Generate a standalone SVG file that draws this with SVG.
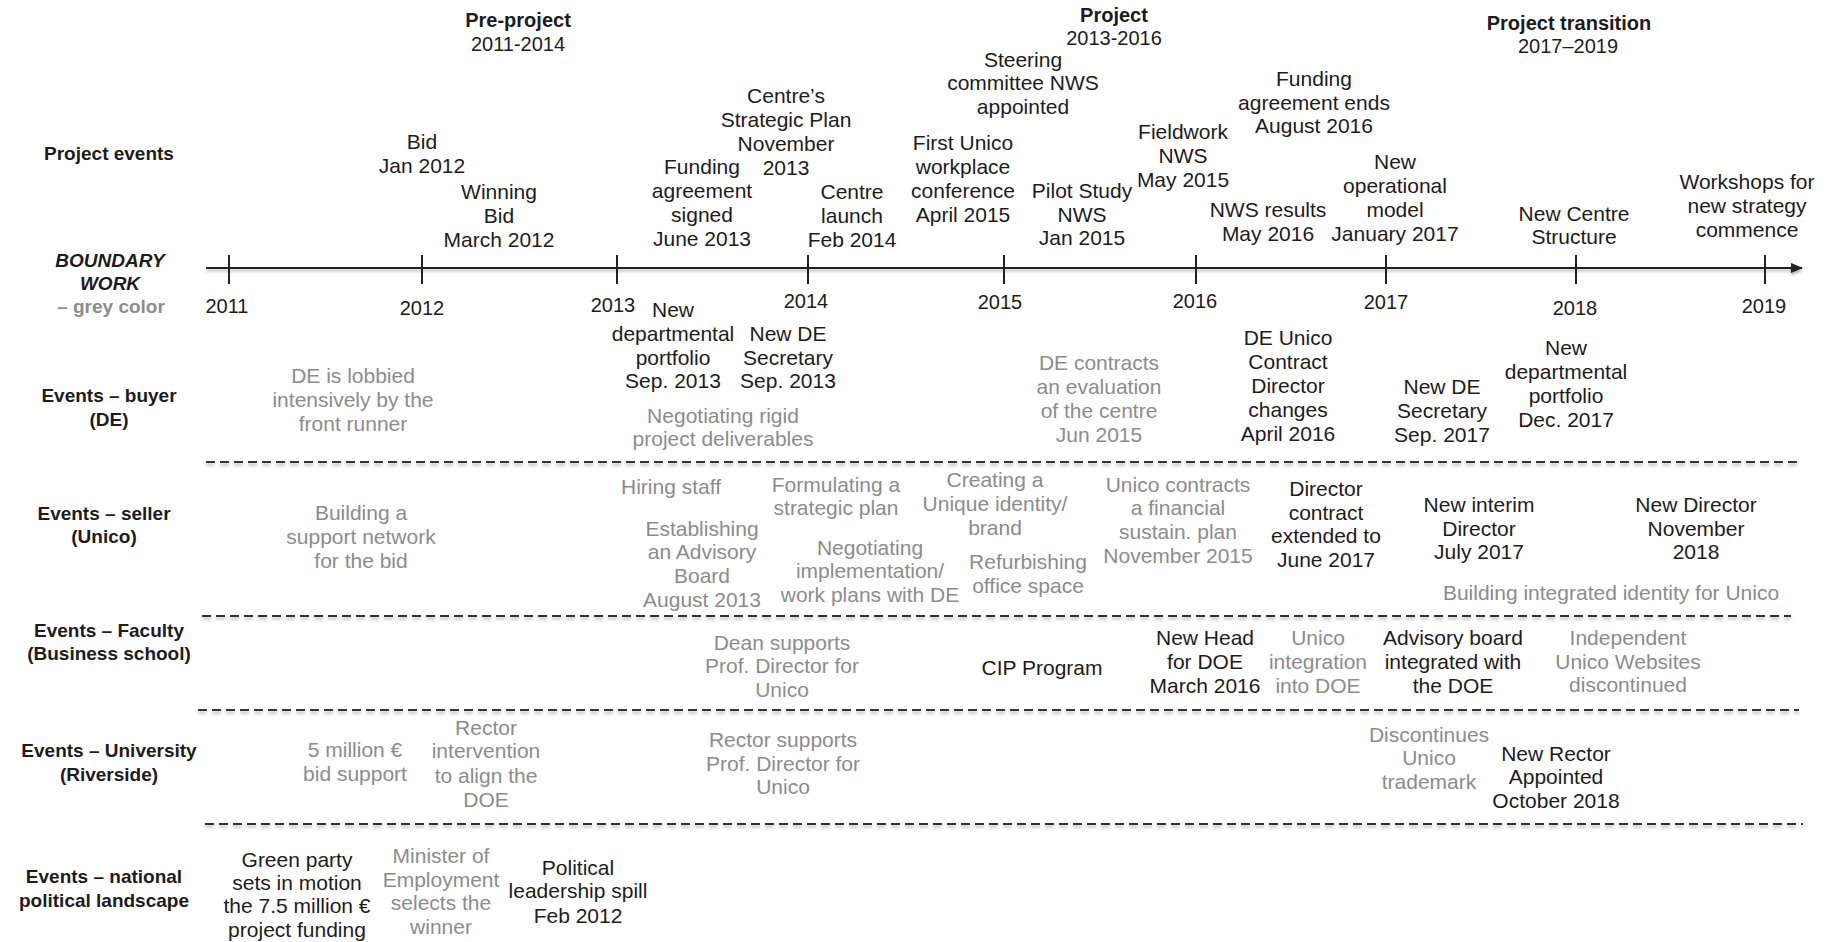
<svg xmlns="http://www.w3.org/2000/svg" width="1831" height="942" viewBox="0 0 1831 942">
<defs>
<style>
text{font-family:"Liberation Sans",Arial,sans-serif;font-size:21px;text-anchor:middle;fill:#1c1c1c}
.g{fill:#8c8c8c}
.h{font-size:20px}
.hb{font-size:20px;font-weight:bold}
.lb{font-size:19px;font-weight:bold}
.yr{font-size:20px}
.ax{stroke:#222;stroke-width:2;fill:none}
.dash{stroke:#333;stroke-width:2;stroke-dasharray:9 5;fill:none}
</style>
<filter id="sh" filterUnits="userSpaceOnUse" x="0" y="0" width="1831" height="942">
<feDropShadow dx="0" dy="2.5" stdDeviation="1.5" flood-color="#000" flood-opacity="0.3"/>
</filter>
<marker id="arr" viewBox="0 0 12 10" refX="11" refY="5" markerWidth="12" markerHeight="10" markerUnits="userSpaceOnUse" orient="auto">
<path d="M0,0 L12,5 L0,10 Z" fill="#222"/>
</marker>
</defs>
<rect width="1831" height="942" fill="#fff"/>

<g id="connectors">
<g filter="url(#sh)">
<line class="ax" x1="206" y1="268" x2="1802" y2="268" marker-end="url(#arr)"/>
</g>
<g class="ax">
<line x1="229" y1="255" x2="229" y2="284"/>
<line x1="422" y1="255" x2="422" y2="284"/>
<line x1="617" y1="255" x2="617" y2="284"/>
<line x1="808" y1="255" x2="808" y2="284"/>
<line x1="1004" y1="255" x2="1004" y2="284"/>
<line x1="1196" y1="255" x2="1196" y2="284"/>
<line x1="1386" y1="255" x2="1386" y2="284"/>
<line x1="1576" y1="255" x2="1576" y2="284"/>
<line x1="1765" y1="255" x2="1765" y2="284"/>
</g>
<g filter="url(#sh)">
<line class="dash" x1="206" y1="462" x2="1797" y2="462"/>
<line class="dash" x1="202" y1="616" x2="1791" y2="616"/>
<line class="dash" x1="198" y1="710" x2="1799" y2="710"/>
<line class="dash" x1="205" y1="824" x2="1803" y2="824"/>
</g>
</g>

<g id="phases">
<g id="phase-pre"><text class="hb" x="518" y="27">Pre-project</text><text class="h" x="518" y="51">2011-2014</text></g>
<g id="phase-project"><text class="hb" x="1114" y="22">Project</text><text class="h" x="1114" y="45">2013-2016</text></g>
<g id="phase-transition"><text class="hb" x="1569" y="30">Project transition</text><text class="h" x="1568" y="53">2017–2019</text></g>
</g>

<g id="row-labels">
<text class="lb" x="109" y="160">Project events</text>
<text class="lb" x="110" y="267" font-style="italic">BOUNDARY</text>
<text class="lb" x="110" y="290" font-style="italic">WORK</text>
<text class="lb g" x="111" y="313">– grey color</text>
<text class="lb"><tspan x="109" y="402">Events – buyer</tspan><tspan x="109" y="426">(DE)</tspan></text>
<text class="lb"><tspan x="104" y="520">Events – seller</tspan><tspan x="104" y="543">(Unico)</tspan></text>
<text class="lb"><tspan x="109" y="637">Events – Faculty</tspan><tspan x="109" y="660">(Business school)</tspan></text>
<text class="lb"><tspan x="109" y="757">Events – University</tspan><tspan x="109" y="781">(Riverside)</tspan></text>
<text class="lb"><tspan x="104" y="883">Events – national</tspan><tspan x="104" y="907">political landscape</tspan></text>
</g>

<g id="years">
<text class="yr" x="227" y="313">2011</text>
<text class="yr" x="422" y="315">2012</text>
<text class="yr" x="613" y="312">2013</text>
<text class="yr" x="806" y="308">2014</text>
<text class="yr" x="1000" y="309">2015</text>
<text class="yr" x="1195" y="308">2016</text>
<text class="yr" x="1386" y="309">2017</text>
<text class="yr" x="1575" y="315">2018</text>
<text class="yr" x="1764" y="313">2019</text>
</g>

<g id="project-events">
<g id="pe-bid"><text><tspan x="422" y="149">Bid</tspan><tspan x="422" y="173">Jan 2012</tspan></text></g>
<g id="pe-winning"><text><tspan x="499" y="199">Winning</tspan><tspan x="499" y="223">Bid</tspan><tspan x="499" y="247">March 2012</tspan></text></g>
<g id="pe-funding"><text><tspan x="702" y="174">Funding</tspan><tspan x="702" y="198">agreement</tspan><tspan x="702" y="222">signed</tspan><tspan x="702" y="246">June 2013</tspan></text></g>
<g id="pe-strategic"><text><tspan x="786" y="103">Centre’s</tspan><tspan x="786" y="127">Strategic Plan</tspan><tspan x="786" y="151">November</tspan><tspan x="786" y="175">2013</tspan></text></g>
<g id="pe-launch"><text><tspan x="852" y="199">Centre</tspan><tspan x="852" y="223">launch</tspan><tspan x="852" y="247">Feb 2014</tspan></text></g>
<g id="pe-conference"><text><tspan x="963" y="150">First Unico</tspan><tspan x="963" y="174">workplace</tspan><tspan x="963" y="198">conference</tspan><tspan x="963" y="222">April 2015</tspan></text></g>
<g id="pe-steering"><text><tspan x="1023" y="67">Steering</tspan><tspan x="1023" y="90">committee NWS</tspan><tspan x="1023" y="114">appointed</tspan></text></g>
<g id="pe-pilot"><text><tspan x="1082" y="198">Pilot Study</tspan><tspan x="1082" y="222">NWS</tspan><tspan x="1082" y="245">Jan 2015</tspan></text></g>
<g id="pe-fieldwork"><text><tspan x="1183" y="139">Fieldwork</tspan><tspan x="1183" y="163">NWS</tspan><tspan x="1183" y="187">May 2015</tspan></text></g>
<g id="pe-funding-ends"><text><tspan x="1314" y="86">Funding</tspan><tspan x="1314" y="110">agreement ends</tspan><tspan x="1314" y="133">August 2016</tspan></text></g>
<g id="pe-nws-results"><text><tspan x="1268" y="217">NWS results</tspan><tspan x="1268" y="241">May 2016</tspan></text></g>
<g id="pe-operational"><text><tspan x="1395" y="169">New</tspan><tspan x="1395" y="193">operational</tspan><tspan x="1395" y="217">model</tspan><tspan x="1395" y="241">January 2017</tspan></text></g>
<g id="pe-structure"><text><tspan x="1574" y="221">New Centre</tspan><tspan x="1574" y="244">Structure</tspan></text></g>
<g id="pe-workshops"><text><tspan x="1747" y="189">Workshops for</tspan><tspan x="1747" y="213">new strategy</tspan><tspan x="1747" y="237">commence</tspan></text></g>
</g>

<g id="buyer-events">
<g id="b-lobbied"><text class="g"><tspan x="353" y="383">DE is lobbied</tspan><tspan x="353" y="407">intensively by the</tspan><tspan x="353" y="431">front runner</tspan></text></g>
<g id="b-portfolio-2013"><text><tspan x="673" y="317">New</tspan><tspan x="673" y="341">departmental</tspan><tspan x="673" y="365">portfolio</tspan><tspan x="673" y="388">Sep. 2013</tspan></text></g>
<g id="b-secretary-2013"><text><tspan x="788" y="341">New DE</tspan><tspan x="788" y="365">Secretary</tspan><tspan x="788" y="388">Sep. 2013</tspan></text></g>
<g id="b-rigid"><text class="g"><tspan x="723" y="423">Negotiating rigid</tspan><tspan x="723" y="446">project deliverables</tspan></text></g>
<g id="b-evaluation"><text class="g"><tspan x="1099" y="370">DE contracts</tspan><tspan x="1099" y="394">an evaluation</tspan><tspan x="1099" y="418">of the centre</tspan><tspan x="1099" y="442">Jun 2015</tspan></text></g>
<g id="b-director-changes"><text><tspan x="1288" y="345">DE Unico</tspan><tspan x="1288" y="369">Contract</tspan><tspan x="1288" y="393">Director</tspan><tspan x="1288" y="417">changes</tspan><tspan x="1288" y="441">April 2016</tspan></text></g>
<g id="b-secretary-2017"><text><tspan x="1442" y="394">New DE</tspan><tspan x="1442" y="418">Secretary</tspan><tspan x="1442" y="442">Sep. 2017</tspan></text></g>
<g id="b-portfolio-2017"><text><tspan x="1566" y="355">New</tspan><tspan x="1566" y="379">departmental</tspan><tspan x="1566" y="403">portfolio</tspan><tspan x="1566" y="427">Dec. 2017</tspan></text></g>
</g>

<g id="seller-events">
<g id="s-network"><text class="g"><tspan x="361" y="520">Building a</tspan><tspan x="361" y="544">support network</tspan><tspan x="361" y="568">for the bid</tspan></text></g>
<g id="s-hiring"><text class="g" x="671" y="494">Hiring staff</text></g>
<g id="s-formulating"><text class="g"><tspan x="836" y="492">Formulating a</tspan><tspan x="836" y="515">strategic plan</tspan></text></g>
<g id="s-advisory"><text class="g"><tspan x="702" y="536">Establishing</tspan><tspan x="702" y="559">an Advisory</tspan><tspan x="702" y="583">Board</tspan><tspan x="702" y="607">August 2013</tspan></text></g>
<g id="s-negotiating"><text class="g"><tspan x="870" y="555">Negotiating</tspan><tspan x="870" y="578">implementation/</tspan><tspan x="870" y="602">work plans with DE</tspan></text></g>
<g id="s-identity"><text class="g"><tspan x="995" y="487">Creating a</tspan><tspan x="995" y="511">Unique identity/</tspan><tspan x="995" y="535">brand</tspan></text></g>
<g id="s-refurbishing"><text class="g"><tspan x="1028" y="569">Refurbishing</tspan><tspan x="1028" y="593">office space</tspan></text></g>
<g id="s-financial"><text class="g"><tspan x="1178" y="492">Unico contracts</tspan><tspan x="1178" y="515">a financial</tspan><tspan x="1178" y="539">sustain. plan</tspan><tspan x="1178" y="563">November 2015</tspan></text></g>
<g id="s-extended"><text><tspan x="1326" y="496">Director</tspan><tspan x="1326" y="520">contract</tspan><tspan x="1326" y="543">extended to</tspan><tspan x="1326" y="567">June 2017</tspan></text></g>
<g id="s-interim"><text><tspan x="1479" y="512">New interim</tspan><tspan x="1479" y="536">Director</tspan><tspan x="1479" y="559">July 2017</tspan></text></g>
<g id="s-new-director"><text><tspan x="1696" y="512">New Director</tspan><tspan x="1696" y="536">November</tspan><tspan x="1696" y="559">2018</tspan></text></g>
<g id="s-integrated"><text class="g" x="1611" y="600">Building integrated identity for Unico</text></g>
</g>

<g id="faculty-events">
<g id="f-dean"><text class="g"><tspan x="782" y="650">Dean supports</tspan><tspan x="782" y="673">Prof. Director for</tspan><tspan x="782" y="697">Unico</tspan></text></g>
<g id="f-cip"><text x="1042" y="675">CIP Program</text></g>
<g id="f-head"><text><tspan x="1205" y="645">New Head</tspan><tspan x="1205" y="669">for DOE</tspan><tspan x="1205" y="693">March 2016</tspan></text></g>
<g id="f-integration"><text class="g"><tspan x="1318" y="645">Unico</tspan><tspan x="1318" y="669">integration</tspan><tspan x="1318" y="693">into DOE</tspan></text></g>
<g id="f-advisory"><text><tspan x="1453" y="645">Advisory board</tspan><tspan x="1453" y="669">integrated with</tspan><tspan x="1453" y="693">the DOE</tspan></text></g>
<g id="f-websites"><text class="g"><tspan x="1628" y="645">Independent</tspan><tspan x="1628" y="669">Unico Websites</tspan><tspan x="1628" y="692">discontinued</tspan></text></g>
</g>

<g id="university-events">
<g id="u-bid-support"><text class="g"><tspan x="355" y="757">5 million €</tspan><tspan x="355" y="781">bid support</tspan></text></g>
<g id="u-rector-intervention"><text class="g"><tspan x="486" y="735">Rector</tspan><tspan x="486" y="758">intervention</tspan><tspan x="486" y="783">to align the</tspan><tspan x="486" y="807">DOE</tspan></text></g>
<g id="u-rector-supports"><text class="g"><tspan x="783" y="747">Rector supports</tspan><tspan x="783" y="771">Prof. Director for</tspan><tspan x="783" y="794">Unico</tspan></text></g>
<g id="u-trademark"><text class="g"><tspan x="1429" y="742">Discontinues</tspan><tspan x="1429" y="765">Unico</tspan><tspan x="1429" y="789">trademark</tspan></text></g>
<g id="u-new-rector"><text><tspan x="1556" y="761">New Rector</tspan><tspan x="1556" y="784">Appointed</tspan><tspan x="1556" y="808">October 2018</tspan></text></g>
</g>

<g id="national-events">
<g id="n-green"><text><tspan x="297" y="867">Green party</tspan><tspan x="297" y="890">sets in motion</tspan><tspan x="297" y="913">the 7.5 million €</tspan><tspan x="297" y="937">project funding</tspan></text></g>
<g id="n-minister"><text class="g"><tspan x="441" y="863">Minister of</tspan><tspan x="441" y="887">Employment</tspan><tspan x="441" y="910">selects the</tspan><tspan x="441" y="934">winner</tspan></text></g>
<g id="n-spill"><text><tspan x="578" y="875">Political</tspan><tspan x="578" y="898">leadership spill</tspan><tspan x="578" y="923">Feb 2012</tspan></text></g>
</g>
</svg>
